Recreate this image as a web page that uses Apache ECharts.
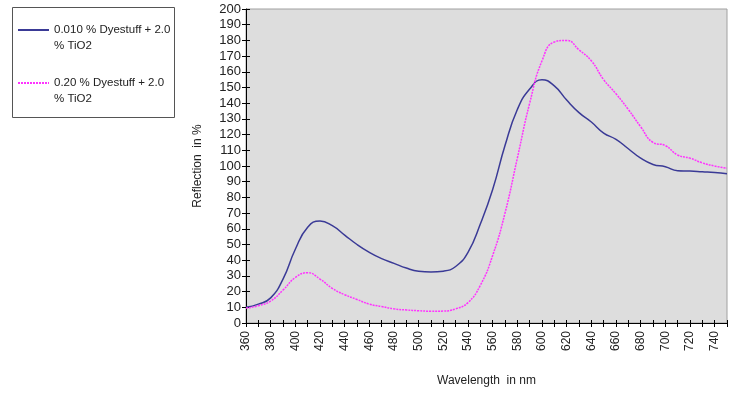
<!DOCTYPE html>
<html>
<head>
<meta charset="utf-8">
<script src="https://cdn.jsdelivr.net/npm/echarts@6/dist/echarts.min.js"></script>
<style>
  html, body { margin: 0; padding: 0; background: #fff; }
  #chart { width: 756px; height: 398px; }
</style>
</head>
<body>
<div id="chart"></div>
<script>
// wavelengths in nm
var wavelengths = [360, 370, 380, 390, 400, 410, 420, 430, 440, 450,
                   460, 470, 480, 490, 500, 510, 520, 530, 540, 550,
                   560, 570, 580, 590, 600, 610, 620, 630, 640, 650,
                   660, 670, 680, 690, 700, 710, 720, 730, 740, 750];

// 0.010 % Dyestuff + 2.0 % TiO2
var lowDye = [10, 12, 16, 28, 47, 61, 65, 62, 56, 50,
              45, 41, 38, 35, 33, 32.5, 33, 36, 45, 63,
              85, 113, 136, 149, 155, 151, 142, 134, 128, 121,
              117, 111, 105, 101, 99.5, 97, 96.8, 96.3, 95.8, 95];

// 0.20 % Dyestuff + 2.0 % TiO2
var highDye = [9.5, 11, 14, 21, 29, 32, 28, 22, 18, 15,
               12, 10.5, 9, 8.3, 7.8, 7.5, 7.6, 9, 13, 24,
               43, 70, 105, 140, 167, 179, 180, 174, 167, 155,
               146, 136, 125, 115, 113, 107, 105, 102, 100, 98.5];

var seriesNames = ['0.010 % Dyestuff + 2.0 % TiO2', '0.20 % Dyestuff + 2.0 % TiO2'];

function pairs(xs, ys) {
  return xs.map(function (x, i) { return [x, ys[i]]; });
}

var chart = echarts.init(document.getElementById('chart'));

var fontFamily = 'Liberation Sans, Arial, sans-serif';
var labelStyle = { fontFamily: fontFamily, fontSize: 12, color: '#222' };

// shared scale settings; the second axis of each pair only adds the inner half of the ticks
var xScale = { type: 'value', min: 360, max: 750, interval: 10 };
var yScale = { type: 'value', min: 0, max: 200, interval: 10 };

chart.setOption({
  animation: false,
  textStyle: labelStyle,
  grid: {
    left: 246, top: 9, right: 29, bottom: 75,
    show: true, backgroundColor: '#dddddd', borderColor: '#a0a0a0', borderWidth: 1
  },
  graphic: [{
    type: 'rect', left: 12, top: 7,
    shape: { width: 162, height: 110 },
    style: { fill: '#fff', stroke: '#555', lineWidth: 1 },
    z: -1
  }],
  legend: {
    orient: 'vertical', left: 17, top: 6, padding: 0,
    itemWidth: 31, itemHeight: 10, itemGap: 5,
    itemStyle: { opacity: 0 },
    textStyle: { fontFamily: fontFamily, fontSize: 11.5, color: '#222', lineHeight: 16 },
    // leading blank line keeps the icon level with the first text line
    formatter: function (name) { return '\n' + name.replace(' % TiO2', '\n% TiO2'); },
    data: seriesNames
  },
  xAxis: [
    Object.assign({
      name: 'Wavelength  in nm', nameLocation: 'middle', nameGap: 52,
      nameTextStyle: labelStyle,
      axisLine: { lineStyle: { color: '#000' } },
      axisTick: { length: 4, lineStyle: { color: '#000' } },
      splitLine: { show: false },
      axisLabel: {
        rotate: 90, color: '#222', fontSize: 12, margin: 8,
        formatter: function (v) { return (v - 360) % 20 === 0 && v < 750 ? String(v) : ''; }
      }
    }, xScale),
    Object.assign({
      position: 'bottom',
      axisLine: { show: false },
      axisTick: { inside: true, length: 3, lineStyle: { color: '#000' } },
      axisLabel: { show: false },
      splitLine: { show: false }
    }, xScale)
  ],
  yAxis: [
    Object.assign({
      name: 'Reflection  in %', nameLocation: 'middle', nameGap: 42,
      nameTextStyle: labelStyle,
      axisLine: { show: true, lineStyle: { color: '#000' } },
      axisTick: { show: true, length: 4, lineStyle: { color: '#000' } },
      splitLine: { show: false },
      axisLabel: { color: '#222', fontSize: 13, margin: 5 }
    }, yScale),
    Object.assign({
      position: 'left',
      axisLine: { show: false },
      axisTick: { show: true, inside: true, length: 4, lineStyle: { color: '#000' } },
      axisLabel: { show: false },
      splitLine: { show: false }
    }, yScale)
  ],
  series: [
    {
      name: seriesNames[0], type: 'line', smooth: true, symbol: 'none',
      lineStyle: { color: '#3a3a96', width: 1.5 }, itemStyle: { color: '#3a3a96' },
      data: pairs(wavelengths, lowDye)
    },
    {
      name: seriesNames[1], type: 'line', smooth: true, symbol: 'none',
      lineStyle: { color: '#ff33ff', width: 1.5, type: [2, 1] }, itemStyle: { color: '#ff33ff' },
      data: pairs(wavelengths, highDye)
    }
  ]
});
</script>
</body>
</html>
